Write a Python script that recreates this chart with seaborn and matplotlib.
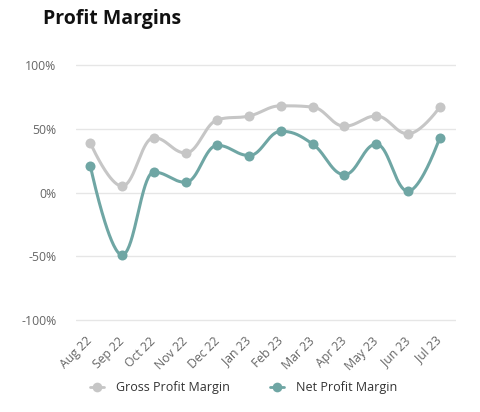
import numpy as np
import pandas as pd
import seaborn as sns
import matplotlib
matplotlib.use("Agg")
import matplotlib.pyplot as plt
from matplotlib.lines import Line2D
from matplotlib.ticker import FuncFormatter

months = ["Aug 22", "Sep 22", "Oct 22", "Nov 22", "Dec 22", "Jan 23",
          "Feb 23", "Mar 23", "Apr 23", "May 23", "Jun 23", "Jul 23"]
gross_margin = [39, 5, 43, 31, 57, 60, 68, 67, 52, 60, 46, 67]
net_margin = [21, -49, 16, 8, 37, 29, 48, 38, 14, 38, 1, 43]
y_ticks = [-100, -50, 0, 50, 100]

GROSS_COLOR = "#c6c6c6"
NET_COLOR = "#6fa6a4"


def spline(xs, ys, n=40, smoothing=1.5):
    """Highcharts-style spline through the points (cubic Bezier segments)."""
    xs = np.asarray(xs, float)
    ys = np.asarray(ys, float)
    m = len(xs)
    denom = smoothing + 1
    left = [(xs[i], ys[i]) for i in range(m)]
    right = [(xs[i], ys[i]) for i in range(m)]
    for i in range(1, m - 1):
        lx, ly = xs[i - 1], ys[i - 1]
        px, py = xs[i], ys[i]
        nx, ny = xs[i + 1], ys[i + 1]
        lcx = (smoothing * px + lx) / denom
        lcy = (smoothing * py + ly) / denom
        rcx = (smoothing * px + nx) / denom
        rcy = (smoothing * py + ny) / denom
        corr = 0.0
        if rcx != lcx:
            corr = (rcy - lcy) * (rcx - px) / (rcx - lcx) + py - rcy
        lcy += corr
        rcy += corr
        if lcy > ly and lcy > py:
            lcy = max(ly, py)
            rcy = 2 * py - lcy
        elif lcy < ly and lcy < py:
            lcy = min(ly, py)
            rcy = 2 * py - lcy
        if rcy > ny and rcy > py:
            rcy = max(ny, py)
            lcy = 2 * py - rcy
        elif rcy < ny and rcy < py:
            rcy = min(ny, py)
            lcy = 2 * py - rcy
        left[i] = (lcx, lcy)
        right[i] = (rcx, rcy)
    outx, outy = [xs[0]], [ys[0]]
    t = np.linspace(0, 1, n)[1:]
    for i in range(1, m):
        p0 = np.array([xs[i - 1], ys[i - 1]])
        p1 = np.array(right[i - 1])
        p2 = np.array(left[i])
        p3 = np.array([xs[i], ys[i]])
        pts = ((1 - t) ** 3)[:, None] * p0 + (3 * (1 - t) ** 2 * t)[:, None] * p1 \
            + (3 * (1 - t) * t ** 2)[:, None] * p2 + (t ** 3)[:, None] * p3
        outx.extend(pts[:, 0])
        outy.extend(pts[:, 1])
    return np.array(outx), np.array(outy)


sns.set_theme(style="white")
plt.rcParams["font.family"] = ["Open Sans", "DejaVu Sans"]

fig = plt.figure(figsize=(4.81, 4.12), dpi=100)
ax = fig.add_axes([76 / 481, (412 - 325.1) / 412, 380 / 481, 265.2 / 412])

idx = np.arange(len(months))
for vals, color in [(gross_margin, GROSS_COLOR), (net_margin, NET_COLOR)]:
    sx, sy = spline(idx, vals)
    sns.lineplot(x=sx, y=sy, ax=ax, color=color, linewidth=2.2, sort=False,
                 estimator=None, zorder=2)
    sns.scatterplot(x=idx, y=vals, ax=ax, color=color, s=52, linewidth=0,
                    zorder=3)

ax.set_xlim(-0.45, 11.51)
ax.set_ylim(-104, 104)
ax.set_yticks(y_ticks)
ax.yaxis.set_major_formatter(FuncFormatter(lambda v, p: f"{int(v)}%"))
ax.set_xticks(idx)
ax.set_xticklabels(months, rotation=45, ha="right", rotation_mode="anchor",
                   va="center")
ax.tick_params(axis="y", length=0, pad=14, labelsize=8.8, labelcolor="#666666")
ax.tick_params(axis="x", length=0, pad=10, labelsize=8.8, labelcolor="#666666")
ax.grid(axis="y", color="#e6e6e6", linewidth=1)
ax.grid(axis="x", visible=False)
for s in ax.spines.values():
    s.set_visible(False)

fig.text(43 / 481, 1 - 24 / 412, "Profit Margins", fontsize=14,
         fontweight="bold", color="#111111", ha="left", va="baseline")

handles = [
    Line2D([0], [0], color=GROSS_COLOR, linewidth=2, marker="o", markersize=7,
           markeredgewidth=0, markerfacecolor=GROSS_COLOR),
    Line2D([0], [0], color=NET_COLOR, linewidth=2, marker="o", markersize=7,
           markeredgewidth=0, markerfacecolor=NET_COLOR),
]
fig.legend(handles, ["Gross Profit Margin", "Net Profit Margin"],
           loc="center", bbox_to_anchor=(0.507, 24 / 412), ncol=2,
           frameon=False, fontsize=9, labelcolor="#333333",
           handlelength=1.1, handletextpad=1.0, columnspacing=3.2)

fig.savefig("out.png", dpi=100)
